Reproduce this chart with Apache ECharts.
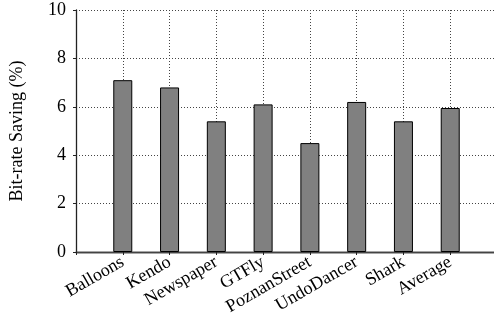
<!DOCTYPE html>
<html><head><meta charset="utf-8">
<script src="https://cdn.jsdelivr.net/npm/echarts@6/dist/echarts.min.js"></script>
<style>html,body{margin:0;padding:0;background:#fff}#c{width:494px;height:322px}</style>
</head><body><div id="c"></div>
<script>
const categories = ['', 'Balloons', 'Kendo', 'Newspaper', 'GTFly', 'PoznanStreet', 'UndoDancer', 'Shark', 'Average', ''];
const savings = [null, 7.1, 6.8, 5.4, 6.1, 4.5, 6.2, 5.4, 5.95, null];
const yTicks = { min: 0, max: 10, interval: 2 };
const yName = 'Bit-rate Saving (%)';

const font = '"Liberation Serif", "DejaVu Serif", serif';
const chart = echarts.init(document.getElementById('c'), null, { renderer: 'canvas' });
chart.setOption({
  animation: false,
  backgroundColor: '#fff',
  grid: { left: 76, top: 10, right: -3, bottom: 70, containLabel: false, outerBoundsMode: 'none' },
  xAxis: [{
    type: 'category', data: categories, boundaryGap: false,
    axisLine: { lineStyle: { color: '#222', width: 1.3 } },
    axisTick: { show: true, length: 3, inside: false, lineStyle: { color: '#222' } },
    axisLabel: { rotate: 30, fontFamily: font, fontSize: 18, color: '#000', margin: 9, interval: 0 },
    splitLine: { show: true, lineStyle: { type: [1, 2], color: '#444', width: 1 } }
  }, {
    type: 'category', data: categories, boundaryGap: false, position: 'top',
    axisLine: { lineStyle: { color: '#444', width: 1.3 } },
    axisTick: { show: false }, axisLabel: { show: false }, splitLine: { show: false }
  }],
  yAxis: [{
    type: 'value', min: yTicks.min, max: yTicks.max, interval: yTicks.interval,
    name: yName, nameLocation: 'middle', nameGap: 50, nameRotate: 90,
    nameTextStyle: { fontFamily: font, fontSize: 18, color: '#000' },
    axisLine: { show: true, lineStyle: { color: '#222', width: 1.3 } },
    axisTick: { show: true, length: 3, lineStyle: { color: '#222' } },
    axisLabel: { fontFamily: font, fontSize: 18, color: '#000', margin: 10 },
    splitLine: { show: true, lineStyle: { type: [1, 2], color: '#444', width: 1 } }
  }, {
    type: 'value', min: yTicks.min, max: yTicks.max, interval: yTicks.interval, position: 'right',
    axisLine: { show: false }, axisTick: { show: false }, axisLabel: { show: false }, splitLine: { show: false }
  }],
  series: [{
    type: 'bar', data: savings, barWidth: 19,
    itemStyle: { color: '#808080', borderColor: '#000', borderWidth: 1 }
  }]
});
</script></body></html>
